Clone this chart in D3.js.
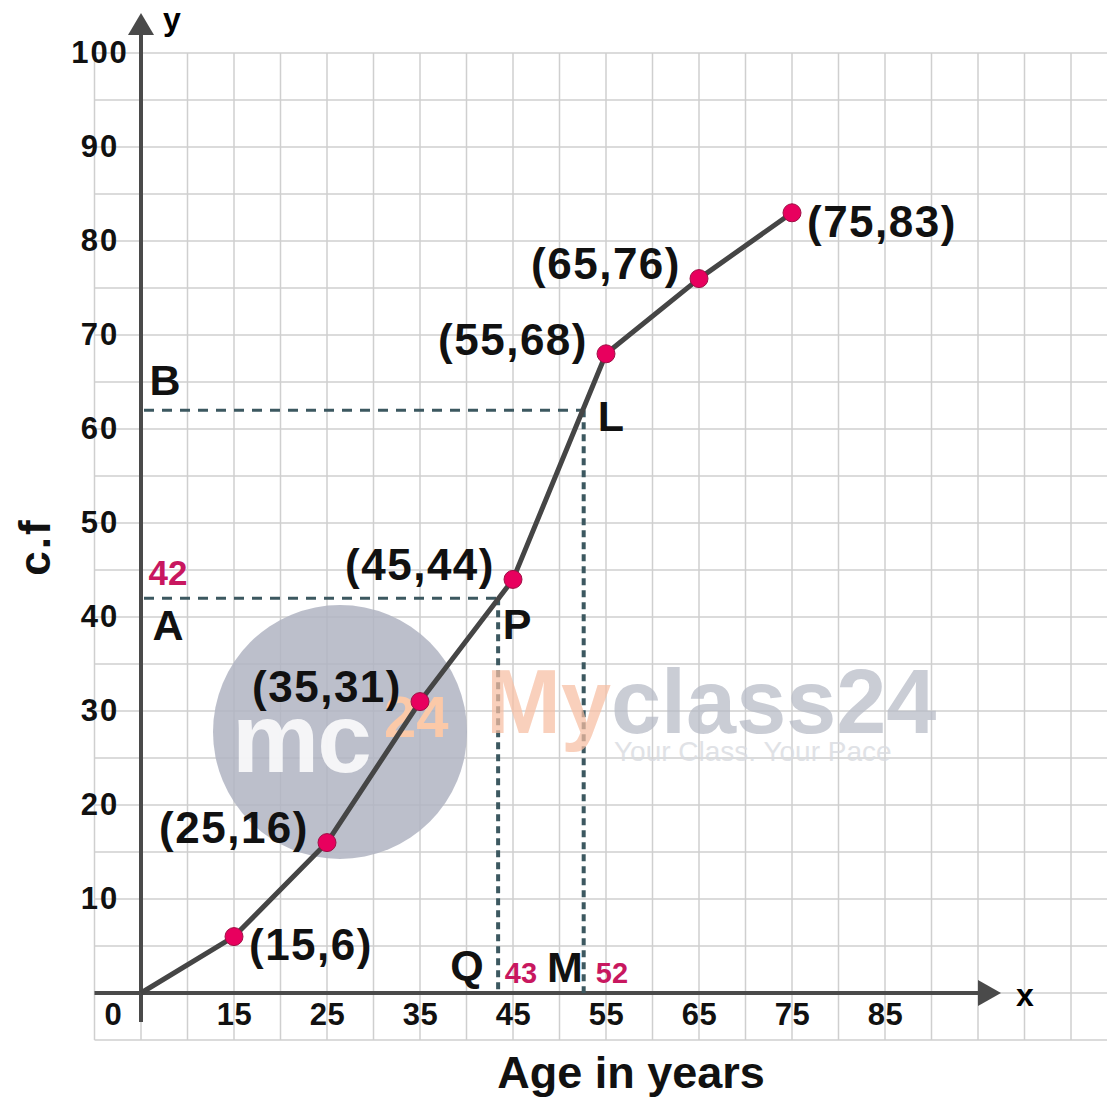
<!DOCTYPE html>
<html>
<head>
<meta charset="utf-8">
<script src="https://cdn.jsdelivr.net/npm/d3@7"></script>
<style>
  body { margin: 0; background: #fff; }
  svg { display: block; font-family: "Liberation Sans", Arial, sans-serif; }
</style>
</head>
<body>
<div id="chart"></div>
<script>
// Ogive data (less than type)
const ageX = [5, 15, 25, 35, 45, 55, 65, 75];
const cumFreq = [0, 6, 16, 31, 44, 68, 76, 83];
const pointLabels = ["", "(15,6)", "(25,16)", "(35,31)", "(45,44)", "(55,68)", "(65,76)", "(75,83)"];
const labelSide = ["", "right", "left", "left", "left", "left", "left", "right"];
const xTicks = [15, 25, 35, 45, 55, 65, 75, 85];
const yTicks = [10, 20, 30, 40, 50, 60, 70, 80, 90, 100];

// lower quartile (A, P, Q) and upper quartile (B, L, M)
const lowerQ = { cf: 42, age: 43.4, shown: "42", ageShown: "43" };
const upperQ = { cf: 62, age: 52.6, ageShown: "52" };

const width = 1107, height = 1098;

const x = d3.scaleLinear().domain([0, 100]).range([94.5, 1024.5]);
const y = d3.scaleLinear().domain([0, 100]).range([993, 53]);

const svg = d3.select("#chart").append("svg")
  .attr("width", width)
  .attr("height", height);

// graph paper grid
const grid = svg.append("g").attr("stroke", "#cfcfcf").attr("stroke-width", 1.5);
d3.range(0, 115, 5).forEach(v => {
  grid.append("line")
    .attr("x1", x(v)).attr("x2", x(v))
    .attr("y1", y(100)).attr("y2", y(-5));
});
d3.range(-5, 105, 5).forEach(v => {
  grid.append("line")
    .attr("x1", x(0)).attr("x2", width)
    .attr("y1", y(v)).attr("y2", y(v));
});

// watermark
const wm = svg.append("g");
wm.append("circle").attr("cx", 340).attr("cy", 732).attr("r", 127)
  .attr("fill", "#b0b4c2").attr("opacity", 0.85);
wm.append("text").attr("x", 232).attr("y", 772)
  .attr("font-size", 98).attr("font-weight", "bold").attr("letter-spacing", -2)
  .attr("fill", "#fff").attr("opacity", 0.85).text("mc");
wm.append("text").attr("x", 384).attr("y", 737)
  .attr("font-size", 58).attr("font-weight", "bold")
  .attr("fill", "#fbc9a8").text("24");

// axes
const axisColor = "#4a4a4a";
svg.append("line")
  .attr("x1", x(0)).attr("x2", 980)
  .attr("y1", y(0)).attr("y2", y(0))
  .attr("stroke", axisColor).attr("stroke-width", 4);
svg.append("path")
  .attr("d", `M978,${y(0) - 13} L1001,${y(0)} L978,${y(0) + 13} Z`)
  .attr("fill", axisColor);
svg.append("line")
  .attr("x1", x(5)).attr("x2", x(5))
  .attr("y1", 1022).attr("y2", 34)
  .attr("stroke", axisColor).attr("stroke-width", 4);
svg.append("path")
  .attr("d", `M${x(5) - 13},35 L${x(5)},13 L${x(5) + 13},35 Z`)
  .attr("fill", axisColor);

svg.append("text").attr("x", 1025).attr("y", 1006)
  .attr("text-anchor", "middle").attr("font-size", 32).attr("font-weight", "bold").text("x");
svg.append("text").attr("x", 172).attr("y", 30)
  .attr("text-anchor", "middle").attr("font-size", 32).attr("font-weight", "bold").text("y");

// tick labels
const xAxis = svg.append("g")
  .attr("transform", `translate(0,${y(0)})`)
  .call(d3.axisBottom(x).tickValues(xTicks).tickSize(0).tickPadding(10));
xAxis.select(".domain").remove();
xAxis.selectAll("text")
  .attr("font-size", 31).attr("font-weight", "bold").attr("fill", "#111")
  .attr("letter-spacing", 0.5)
  .attr("font-family", "Liberation Sans, Arial, sans-serif");

const yAxis = svg.append("g")
  .attr("transform", `translate(100,0)`)
  .call(d3.axisLeft(y).tickValues(yTicks).tickSize(0).tickPadding(0));
yAxis.select(".domain").remove();
yAxis.selectAll("text")
  .attr("text-anchor", "middle")
  .attr("font-size", 31).attr("font-weight", "bold").attr("fill", "#111")
  .attr("letter-spacing", 2)
  .attr("font-family", "Liberation Sans, Arial, sans-serif");

svg.append("text").attr("x", 113).attr("y", 1025)
  .attr("text-anchor", "middle").attr("font-size", 31).attr("font-weight", "bold")
  .attr("fill", "#111").text("0");

// axis titles
svg.append("text").attr("x", 631).attr("y", 1088)
  .attr("text-anchor", "middle").attr("font-size", 45).attr("font-weight", "bold")
  .attr("fill", "#111").text("Age in years");
svg.append("text")
  .attr("transform", "translate(50,547) rotate(-90)")
  .attr("text-anchor", "middle").attr("font-size", 44).attr("font-weight", "bold")
  .attr("letter-spacing", 2)
  .attr("fill", "#111").text("c.f");

// dashed quartile lines
const dashColor = "#3c5860";
function hDash(cf, age) {
  svg.append("line")
    .attr("x1", x(5) + 3).attr("x2", x(age))
    .attr("y1", y(cf)).attr("y2", y(cf))
    .attr("stroke", dashColor).attr("stroke-width", 3)
    .attr("stroke-dasharray", "10,8");
}
function vDash(cf, age) {
  svg.append("line")
    .attr("x1", x(age)).attr("x2", x(age))
    .attr("y1", y(cf)).attr("y2", y(0))
    .attr("stroke", dashColor).attr("stroke-width", 4)
    .attr("stroke-dasharray", "7,5");
}
hDash(lowerQ.cf, lowerQ.age);
vDash(lowerQ.cf, lowerQ.age);
hDash(upperQ.cf, upperQ.age);
vDash(upperQ.cf, upperQ.age);

// ogive curve
const data = ageX.map((a, i) => ({ age: a, cf: cumFreq[i], label: pointLabels[i], side: labelSide[i] }));
const line = d3.line().x(d => x(d.age)).y(d => y(d.cf));
svg.append("path")
  .datum(data)
  .attr("d", line)
  .attr("fill", "none")
  .attr("stroke", "#454545")
  .attr("stroke-width", 5)
  .attr("stroke-linejoin", "round");

svg.selectAll("circle.pt")
  .data(data.slice(1))
  .enter().append("circle")
  .attr("class", "pt")
  .attr("cx", d => x(d.age))
  .attr("cy", d => y(d.cf))
  .attr("r", 9)
  .attr("fill", "#e8005e")
  .attr("stroke", "#9e0f45")
  .attr("stroke-width", 1);

svg.selectAll("text.pl")
  .data(data.slice(1))
  .enter().append("text")
  .attr("class", "pl")
  .attr("x", d => x(d.age) + (d.side === "right" ? 15 : -18))
  .attr("y", d => y(d.cf) + (d.side === "right" ? 8 : -15))
  .attr("dy", "0.36em")
  .attr("text-anchor", d => d.side === "right" ? "start" : "end")
  .attr("font-size", 44).attr("font-weight", "bold")
  .attr("letter-spacing", 1.5)
  .attr("fill", "#111")
  .text(d => d.label);

// letters
const letter = (t, px, py) => svg.append("text").attr("x", px).attr("y", py)
  .attr("text-anchor", "middle").attr("font-size", 43).attr("font-weight", "bold")
  .attr("fill", "#111").text(t);
letter("B", 165, 395);
letter("A", 168, 640);
letter("L", 611, 431);
letter("P", 517, 639);
letter("Q", 467, 980);
letter("M", 565, 982);

const pink = (t, px, py, fs) => svg.append("text").attr("x", px).attr("y", py)
  .attr("text-anchor", "middle").attr("font-size", fs).attr("font-weight", "bold")
  .attr("fill", "#c8175f").text(t);
pink(lowerQ.shown, 168, 585, 35);
pink(lowerQ.ageShown, 521, 983, 29);
pink(upperQ.ageShown, 612, 983, 29);

// brand watermark text
const brand = svg.append("text").attr("x", 486).attr("y", 733)
  .attr("font-size", 90).attr("font-weight", "bold").attr("opacity", 0.72);
brand.append("tspan").attr("fill", "#f8bfa3").text("My");
brand.append("tspan").attr("fill", "#b6bac6").text("class24");
svg.append("text").attr("x", 614).attr("y", 761)
  .attr("font-size", 28).attr("fill", "#d9dbe1").attr("opacity", 0.8)
  .text("Your Class. Your Pace");
</script>
</body>
</html>
